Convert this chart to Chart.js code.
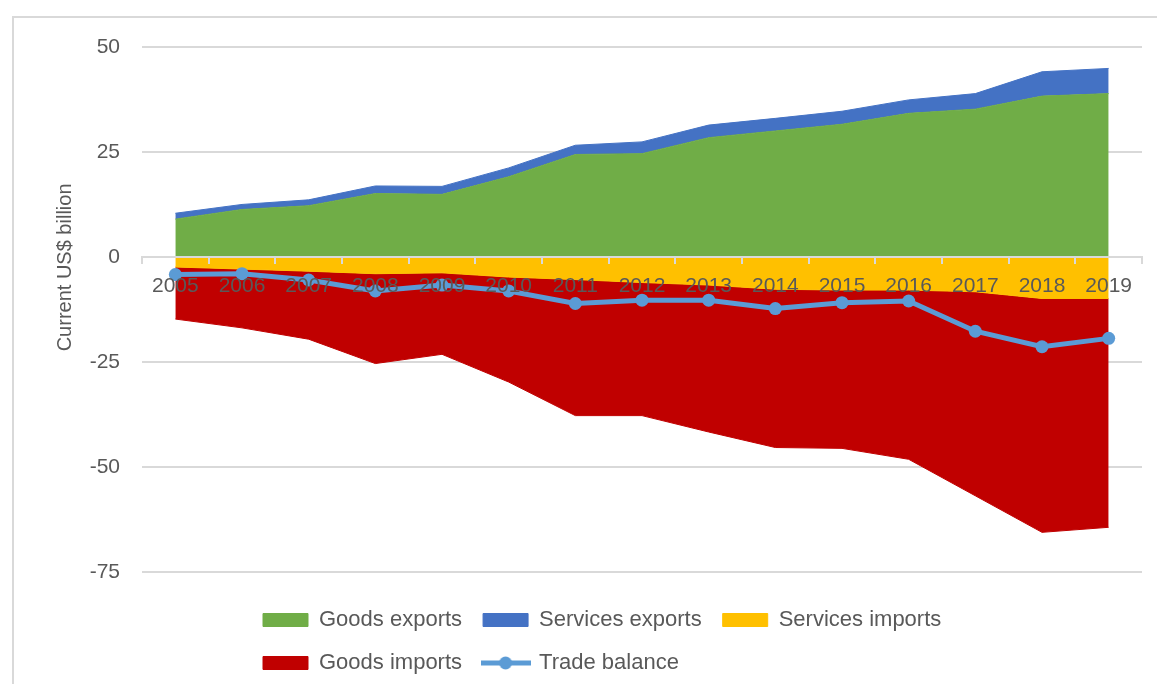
<!DOCTYPE html>
<html>
<head>
<meta charset="utf-8">
<script src="https://cdn.jsdelivr.net/npm/chart.js@4.4.1/dist/chart.umd.min.js"></script>
<style>
    html, body { margin: 0; padding: 0; background: #fff; }
    #wrap { position: relative; width: 1157px; height: 684px; overflow: hidden; }
    #frame { position: absolute; left: 12px; top: 16px; width: 1200px; height: 700px;
             border-left: 2px solid #d9d9d9; border-top: 2px solid #d9d9d9; }
    canvas { position: absolute; left: 0; top: 0; }
</style>
</head>
<body>
<div id="wrap">
    <div id="frame"></div>
    <canvas id="tradeChart" width="1157" height="684"></canvas>
</div>
<script>
const years = ['2005', '2006', '2007', '2008', '2009', '2010', '2011', '2012',
               '2013', '2014', '2015', '2016', '2017', '2018', '2019'];
const goodsExports = [9.0, 11.3, 12.2, 15.1, 14.9, 19.1, 24.4, 24.6, 28.4, 30.0, 31.6, 34.2, 35.2, 38.3, 38.9];
const servicesExports = [1.4, 1.2, 1.4, 1.8, 1.9, 2.1, 2.2, 2.8, 3.0, 3.0, 3.1, 3.2, 3.7, 5.8, 6.0];
const servicesImports = [-2.4, -2.9, -3.4, -4.0, -3.8, -4.8, -5.4, -6.1, -6.7, -7.7, -7.9, -7.9, -8.3, -9.9, -9.9];
const goodsImports = [-12.4, -14.0, -16.2, -21.4, -19.4, -25.0, -32.4, -31.7, -35.0, -37.7, -37.7, -40.3, -48.6, -55.7, -54.5];
const tradeBalance = [-4.2, -4.0, -5.5, -8.1, -6.7, -8.1, -11.1, -10.3, -10.3, -12.3, -10.9, -10.5, -17.7, -21.4, -19.4];
const yTicks = [50, 25, 0, -25, -50, -75];

const textGrey = '#595959';
const gridGrey = '#d9d9d9';
Chart.defaults.font.family = '"Liberation Sans", Arial, sans-serif';

// legend marker for the trade balance line (line with a dot)
const marker = document.createElement('canvas');
marker.width = 50;
marker.height = 14;
const mctx = marker.getContext('2d');
mctx.strokeStyle = '#5b9bd5';
mctx.lineWidth = 5;
mctx.beginPath();
mctx.moveTo(0, 7);
mctx.lineTo(50, 7);
mctx.stroke();
mctx.fillStyle = '#5b9bd5';
mctx.beginPath();
mctx.arc(25, 7, 6.5, 0, Math.PI * 2);
mctx.fill();

// start legend rows from the same left edge, three items on the first row
const legendShift = {
    id: 'legendShift',
    afterLayout(chart) {
        const lg = chart.legend;
        lg.left = chart.chartArea.left + 100;
        lg.right = lg.left + 760;
    }
};

// axis title, drawn a bit above the middle like the original
const yTitle = {
    id: 'yTitle',
    afterDraw(chart) {
        const {ctx, chartArea} = chart;
        ctx.save();
        ctx.translate(65, chartArea.top + (chartArea.bottom - chartArea.top) * 0.42);
        ctx.rotate(-Math.PI / 2);
        ctx.font = '20px "Liberation Sans", Arial, sans-serif';
        ctx.fillStyle = textGrey;
        ctx.textAlign = 'center';
        ctx.textBaseline = 'middle';
        ctx.fillText('Current US$ billion', 0, 0);
        ctx.restore();
    }
};

function area(label, data, color, fill) {
    return {
        label: label,
        data: data,
        backgroundColor: color,
        borderColor: color,
        borderWidth: 1,
        pointRadius: 0,
        pointHoverRadius: 0,
        fill: fill,
        stack: 'flows',
        order: 1
    };
}

const ctx = document.getElementById('tradeChart').getContext('2d');
new Chart(ctx, {
    type: 'line',
    data: {
        labels: years,
        datasets: [
            area('Goods exports', goodsExports, '#70ad47', 'origin'),
            area('Services exports', servicesExports, '#4472c4', '-1'),
            area('Services imports', servicesImports, '#ffc000', 'origin'),
            area('Goods imports', goodsImports, '#c00000', '-1'),
            {
                label: 'Trade balance',
                data: tradeBalance,
                borderColor: '#5b9bd5',
                backgroundColor: '#5b9bd5',
                borderWidth: 5,
                pointRadius: 6.5,
                pointBackgroundColor: '#5b9bd5',
                pointBorderColor: '#5b9bd5',
                pointBorderWidth: 0,
                fill: false,
                stack: 'balance',
                order: 0
            }
        ]
    },
    options: {
        responsive: false,
        animation: false,
        layout: {
            padding: { left: 0, top: 47, right: 15, bottom: 0 }
        },
        scales: {
            x: {
                position: { y: 0 },
                offset: true,
                grid: {
                    display: true,
                    drawOnChartArea: false,
                    drawTicks: true,
                    tickLength: 6,
                    color: gridGrey,
                    lineWidth: 2,
                    offset: true,
                    z: 1
                },
                border: { display: true, color: gridGrey, width: 2, z: 1 },
                ticks: {
                    color: textGrey,
                    font: { size: 21 },
                    padding: 11,
                    maxRotation: 0,
                    autoSkip: false,
                    z: 1
                }
            },
            y: {
                stacked: true,
                min: Math.min(...yTicks),
                max: Math.max(...yTicks),
                afterBuildTicks(scale) {
                    scale.ticks = yTicks.map(v => ({ value: v }));
                },
                afterFit(scale) {
                    scale.width = 142;
                },
                grid: {
                    color: gridGrey,
                    lineWidth: 2,
                    drawTicks: false
                },
                border: { display: false },
                ticks: {
                    color: textGrey,
                    font: { size: 21 },
                    padding: 22
                }
            }
        },
        plugins: {
            legend: {
                position: 'bottom',
                align: 'start',
                fullSize: false,
                title: {
                    display: true,
                    text: '',
                    font: { size: 1 },
                    padding: { top: 15, bottom: 0 }
                },
                labels: {
                    color: textGrey,
                    font: { size: 22 },
                    usePointStyle: true,
                    pointStyleWidth: 45,
                    boxHeight: 13,
                    padding: 21,
                    generateLabels(chart) {
                        const items = Chart.defaults.plugins.legend.labels.generateLabels(chart);
                        items.forEach(it => {
                            it.pointStyle = it.datasetIndex === 4 ? marker : 'rect';
                        });
                        return items.sort((a, b) => a.datasetIndex - b.datasetIndex);
                    }
                }
            },
            tooltip: { enabled: false }
        }
    },
    plugins: [legendShift, yTitle]
});
</script>
</body>
</html>
